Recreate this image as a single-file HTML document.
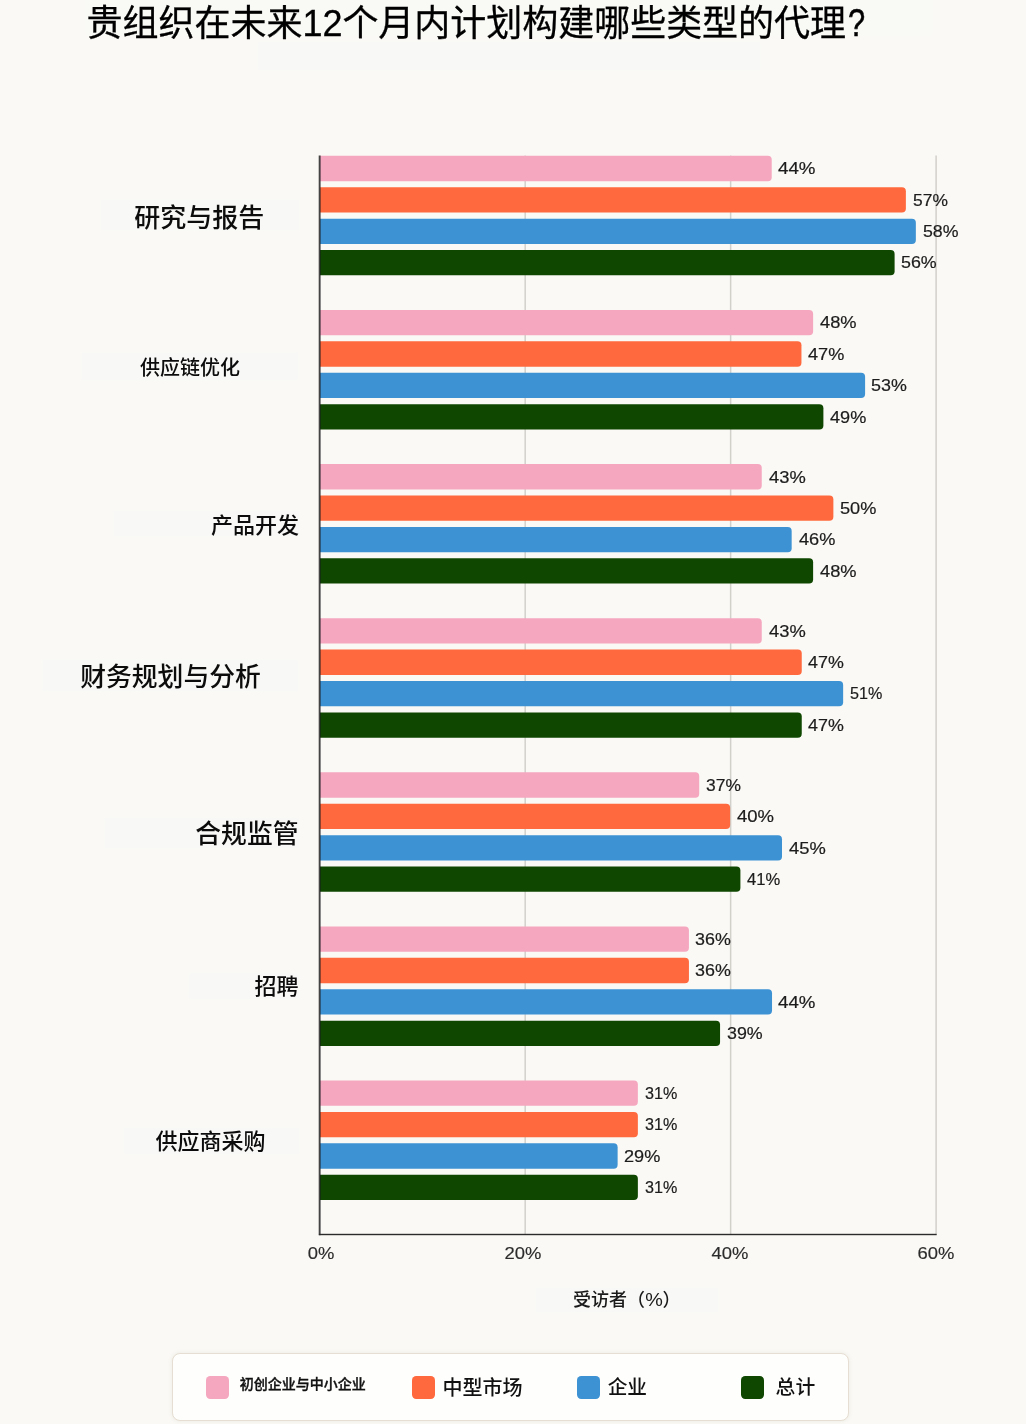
<!DOCTYPE html>
<html lang="zh-CN">
<head>
<meta charset="utf-8">
<title>贵组织在未来12个月内计划构建哪些类型的代理?</title>
<style>
html,body{margin:0;padding:0;}
body{width:1026px;height:1424px;background:#faf9f5;position:relative;overflow:hidden;
 font-family:"Liberation Sans","Noto Sans CJK SC",sans-serif;color:#1a1a1a;}
.title{position:absolute;left:86.6px;top:0px;font-size:36px;letter-spacing:-0.03px;line-height:48px;white-space:nowrap;color:#000;-webkit-text-stroke:0.3px #000;margin:0;font-weight:400;}
.title .q{display:inline-block;font-size:38.5px;line-height:1;transform:scaleX(0.8);transform-origin:0 50%;margin-left:1.6px;-webkit-text-stroke:0.55px #000;}
.patch{position:absolute;background:#f8f8f6;box-shadow:0 0 2px #f8f8f6;}
.cat{position:absolute;white-space:nowrap;color:#0c0c0c;line-height:1;transform:translateY(-50%);font-weight:500;}
.cat.c{transform:translate(-50%,-50%);}
.cat.r{transform:translate(-100%,-50%);}
svg.plot{position:absolute;left:0;top:0;}
.val{position:absolute;font-family:"Liberation Sans",sans-serif;font-size:16.6px;letter-spacing:0px;line-height:20px;height:20px;color:#1c1c1c;white-space:nowrap;transform-origin:0 50%;-webkit-text-stroke:0.2px #1c1c1c;}
.tick{position:absolute;font-family:"Liberation Sans",sans-serif;font-size:16.6px;letter-spacing:0px;line-height:20px;color:#2c2c2c;white-space:nowrap;transform:translateX(-50%) scaleX(1.11);-webkit-text-stroke:0.15px #2c2c2c;}
.xtitle .pc{display:inline-block;transform:scaleX(1.1);margin:0 0.8px;}
.xtitle{position:absolute;font-size:18px;line-height:24px;color:#1a1a1a;white-space:nowrap;font-weight:500;}
.legend{position:absolute;left:171.9px;top:1352.7px;width:675.4px;height:66px;border:1.5px solid #e6ded2;border-radius:8px;background:#fefefd;box-sizing:content-box;box-shadow:0 0 4px rgba(120,100,70,0.10);}
.sw{position:absolute;width:22.7px;height:23px;border-radius:4.2px;top:1375.9px;}
.lt{position:absolute;white-space:nowrap;color:#111;line-height:1;transform:translateY(-50%);}

</style>
</head>
<body>
<div class="patch" style="left:86px;top:0px;width:846px;height:35px;background:#f9f9f6;"></div>
<h1 class="title">贵组织在未来12个月内计划构建哪些类型的代理<span class="q">?</span></h1>
<div class="patch" style="left:258px;top:42px;width:502px;height:28px;"></div>
<div class="patch" style="left:101px;top:200.4px;width:198px;height:30px;"></div>
<div class="patch" style="left:82px;top:353.4px;width:216px;height:26.2px;"></div>
<div class="patch" style="left:114px;top:510.6px;width:185px;height:25.8px;"></div>
<div class="patch" style="left:43px;top:660px;width:255px;height:31px;"></div>
<div class="patch" style="left:105px;top:818px;width:194px;height:30px;"></div>
<div class="patch" style="left:189px;top:973px;width:110px;height:26px;"></div>
<div class="patch" style="left:124px;top:1128px;width:175px;height:26px;"></div>
<div class="patch" style="left:536px;top:1287.8px;width:182px;height:24px;"></div>
<svg class="plot" width="1026" height="1424" viewBox="0 0 1026 1424">
<rect x="524.42" y="155.5" width="1.5" height="1078.5" fill="#d2d0cb"/>
<rect x="729.88" y="155.5" width="1.5" height="1078.5" fill="#d2d0cb"/>
<rect x="935.35" y="155.5" width="1.5" height="1078.5" fill="#d2d0cb"/>
<path d="M320.00 155.85H767.73Q771.73 155.85 771.73 159.85V177.15Q771.73 181.15 767.73 181.15H320.00Z" fill="#f5a7c0"/>
<path d="M320.00 187.25H901.88Q905.88 187.25 905.88 191.25V208.55Q905.88 212.55 901.88 212.55H320.00Z" fill="#ff693d"/>
<path d="M320.00 218.65H911.85Q915.85 218.65 915.85 222.65V239.95Q915.85 243.95 911.85 243.95H320.00Z" fill="#3d92d3"/>
<path d="M320.00 250.05H890.61Q894.61 250.05 894.61 254.05V271.35Q894.61 275.35 890.61 275.35H320.00Z" fill="#0f4700"/>
<path d="M320.00 309.97H809.12Q813.12 309.97 813.12 313.97V331.27Q813.12 335.27 809.12 335.27H320.00Z" fill="#f5a7c0"/>
<path d="M320.00 341.37H797.45Q801.45 341.37 801.45 345.37V362.67Q801.45 366.67 797.45 366.67H320.00Z" fill="#ff693d"/>
<path d="M320.00 372.77H861.09Q865.09 372.77 865.09 376.77V394.07Q865.09 398.07 861.09 398.07H320.00Z" fill="#3d92d3"/>
<path d="M320.00 404.17H819.39Q823.39 404.17 823.39 408.17V425.47Q823.39 429.47 819.39 429.47H320.00Z" fill="#0f4700"/>
<path d="M320.00 464.09H757.75Q761.75 464.09 761.75 468.09V485.39Q761.75 489.39 757.75 489.39H320.00Z" fill="#f5a7c0"/>
<path d="M320.00 495.49H829.37Q833.37 495.49 833.37 499.49V516.79Q833.37 520.79 829.37 520.79H320.00Z" fill="#ff693d"/>
<path d="M320.00 526.89H787.67Q791.67 526.89 791.67 530.89V548.19Q791.67 552.19 787.67 552.19H320.00Z" fill="#3d92d3"/>
<path d="M320.00 558.29H809.12Q813.12 558.29 813.12 562.29V579.59Q813.12 583.59 809.12 583.59H320.00Z" fill="#0f4700"/>
<path d="M320.00 618.21H757.75Q761.75 618.21 761.75 622.21V639.51Q761.75 643.51 757.75 643.51H320.00Z" fill="#f5a7c0"/>
<path d="M320.00 649.61H797.75Q801.75 649.61 801.75 653.61V670.91Q801.75 674.91 797.75 674.91H320.00Z" fill="#ff693d"/>
<path d="M320.00 681.01H839.14Q843.14 681.01 843.14 685.01V702.31Q843.14 706.31 839.14 706.31H320.00Z" fill="#3d92d3"/>
<path d="M320.00 712.41H797.75Q801.75 712.41 801.75 716.41V733.71Q801.75 737.71 797.75 737.71H320.00Z" fill="#0f4700"/>
<path d="M320.00 772.33H695.21Q699.21 772.33 699.21 776.33V793.63Q699.21 797.63 695.21 797.63H320.00Z" fill="#f5a7c0"/>
<path d="M320.00 803.73H726.13Q730.13 803.73 730.13 807.73V825.03Q730.13 829.03 726.13 829.03H320.00Z" fill="#ff693d"/>
<path d="M320.00 835.13H778.00Q782.00 835.13 782.00 839.13V856.43Q782.00 860.43 778.00 860.43H320.00Z" fill="#3d92d3"/>
<path d="M320.00 866.53H736.41Q740.41 866.53 740.41 870.53V887.83Q740.41 891.83 736.41 891.83H320.00Z" fill="#0f4700"/>
<path d="M320.00 926.45H684.94Q688.94 926.45 688.94 930.45V947.75Q688.94 951.75 684.94 951.75H320.00Z" fill="#f5a7c0"/>
<path d="M320.00 957.85H684.94Q688.94 957.85 688.94 961.85V979.15Q688.94 983.15 684.94 983.15H320.00Z" fill="#ff693d"/>
<path d="M320.00 989.25H768.03Q772.03 989.25 772.03 993.25V1010.55Q772.03 1014.55 768.03 1014.55H320.00Z" fill="#3d92d3"/>
<path d="M320.00 1020.65H716.06Q720.06 1020.65 720.06 1024.65V1041.95Q720.06 1045.95 716.06 1045.95H320.00Z" fill="#0f4700"/>
<path d="M320.00 1080.57H633.87Q637.87 1080.57 637.87 1084.57V1101.87Q637.87 1105.87 633.87 1105.87H320.00Z" fill="#f5a7c0"/>
<path d="M320.00 1111.97H633.87Q637.87 1111.97 637.87 1115.97V1133.27Q637.87 1137.27 633.87 1137.27H320.00Z" fill="#ff693d"/>
<path d="M320.00 1143.37H613.63Q617.63 1143.37 617.63 1147.37V1164.67Q617.63 1168.67 613.63 1168.67H320.00Z" fill="#3d92d3"/>
<path d="M320.00 1174.77H633.87Q637.87 1174.77 637.87 1178.77V1196.07Q637.87 1200.07 633.87 1200.07H320.00Z" fill="#0f4700"/>
<rect x="318.7" y="155.5" width="1.9" height="1079.7" fill="#1c1c1e" fill-opacity="0.82"/>
<rect x="318.9" y="1233.8" width="617.8" height="1.4" fill="#2b2b2b"/>
</svg>
<div class="cat c" style="left:199.3px;top:217.9px;font-size:26px;">研究与报告</div>
<div class="val" style="left:778.3px;top:159px;transform:scaleX(1.130);">44%</div>
<div class="val" style="left:913.1px;top:191px;transform:scaleX(1.050);">57%</div>
<div class="val" style="left:922.9px;top:222px;transform:scaleX(1.069);">58%</div>
<div class="val" style="left:901.2px;top:253px;transform:scaleX(1.075);">56%</div>
<div class="cat c" style="left:190px;top:368px;font-size:20px;">供应链优化</div>
<div class="val" style="left:820.2px;top:313px;transform:scaleX(1.102);">48%</div>
<div class="val" style="left:808.1px;top:345px;transform:scaleX(1.093);">47%</div>
<div class="val" style="left:871.3px;top:376px;transform:scaleX(1.078);">53%</div>
<div class="val" style="left:830.2px;top:408px;transform:scaleX(1.093);">49%</div>
<div class="cat r" style="left:299px;top:525.7px;font-size:22px;">产品开发</div>
<div class="val" style="left:768.9px;top:468px;transform:scaleX(1.105);">43%</div>
<div class="val" style="left:840.2px;top:499px;transform:scaleX(1.096);">50%</div>
<div class="val" style="left:798.8px;top:530px;transform:scaleX(1.096);">46%</div>
<div class="val" style="left:820.0px;top:562px;transform:scaleX(1.102);">48%</div>
<div class="cat c" style="left:170.5px;top:677.5px;font-size:25.8px;">财务规划与分析</div>
<div class="val" style="left:768.9px;top:622px;transform:scaleX(1.105);">43%</div>
<div class="val" style="left:808.3px;top:653px;transform:scaleX(1.078);">47%</div>
<div class="val" style="left:850.0px;top:684px;transform:scaleX(0.974);">51%</div>
<div class="val" style="left:808.3px;top:716px;transform:scaleX(1.078);">47%</div>
<div class="cat r" style="left:298.5px;top:834.7px;font-size:25.8px;">合规监管</div>
<div class="val" style="left:705.7px;top:776px;transform:scaleX(1.050);">37%</div>
<div class="val" style="left:737.2px;top:807px;transform:scaleX(1.117);">40%</div>
<div class="val" style="left:788.7px;top:839px;transform:scaleX(1.105);">45%</div>
<div class="val" style="left:747.1px;top:870px;transform:scaleX(0.999);">41%</div>
<div class="cat r" style="left:298.5px;top:987.3px;font-size:22px;">招聘</div>
<div class="val" style="left:695.4px;top:930px;transform:scaleX(1.078);">36%</div>
<div class="val" style="left:695.4px;top:961px;transform:scaleX(1.078);">36%</div>
<div class="val" style="left:778.4px;top:993px;transform:scaleX(1.127);">44%</div>
<div class="val" style="left:726.9px;top:1024px;transform:scaleX(1.075);">39%</div>
<div class="cat c" style="left:210.5px;top:1142.4px;font-size:22px;">供应商采购</div>
<div class="val" style="left:644.5px;top:1084px;transform:scaleX(0.974);">31%</div>
<div class="val" style="left:644.5px;top:1115px;transform:scaleX(0.974);">31%</div>
<div class="val" style="left:623.6px;top:1147px;transform:scaleX(1.093);">29%</div>
<div class="val" style="left:644.5px;top:1178px;transform:scaleX(0.974);">31%</div>
<div class="tick" style="left:321px;top:1244.2px;">0%</div>
<div class="tick" style="left:522.7px;top:1244.2px;">20%</div>
<div class="tick" style="left:729.5px;top:1244.2px;">40%</div>
<div class="tick" style="left:936px;top:1244.2px;">60%</div>
<div class="xtitle" style="left:573px;top:1288.2px;">受访者（<span class="pc">%</span>）</div>
<div class="legend"></div>
<div class="sw" style="left:206.3px;background:#f5a7c0;"></div>
<div class="lt" style="left:239.7px;top:1383.8px;font-size:14px;font-weight:500;-webkit-text-stroke:0.35px #111;">初创企业与中小企业</div>
<div class="sw" style="left:412px;background:#ff693d;"></div>
<div class="lt" style="left:442.6px;top:1388.1px;font-size:20px;font-weight:500;">中型市场</div>
<div class="sw" style="left:577.2px;background:#3d92d3;"></div>
<div class="lt" style="left:607.7px;top:1388.1px;font-size:19.7px;font-weight:500;">企业</div>
<div class="sw" style="left:741.4px;background:#0f4700;"></div>
<div class="lt" style="left:775.6px;top:1388.1px;font-size:19.8px;font-weight:500;">总计</div>
</body>
</html>
